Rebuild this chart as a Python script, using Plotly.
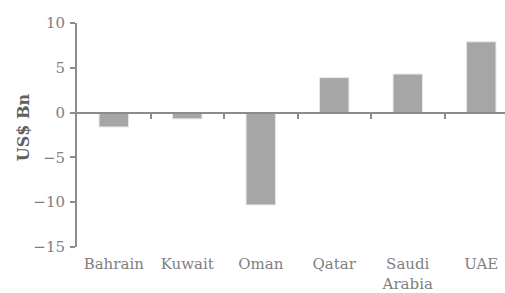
import plotly.graph_objects as go

countries = ["Bahrain", "Kuwait", "Oman", "Qatar", "Saudi<br>Arabia", "UAE"]
values = [-1.6, -0.7, -10.3, 3.9, 4.3, 7.9]
y_ticks = [10, 5, 0, -5, -10, -15]
y_tick_text = ["10", "5", "0", "\u22125", "\u221210", "\u221215"]
boundary_ticks = [0.5, 1.5, 2.5, 3.5, 4.5]

FONT = "DejaVu Serif"
AX = "#8c8c8c"
TXT = "#808080"

fig = go.Figure()
fig.add_trace(go.Bar(
    x=list(range(len(countries))), y=values,
    marker=dict(color="#a6a6a6", line=dict(color="#e6e6e6", width=1)),
    width=0.4, xaxis="x", yaxis="y",
))

xr = [-0.5, 5.323]
fig.update_layout(
    width=505, height=293,
    margin=dict(l=77, r=0, t=23, b=46, autoexpand=False),
    paper_bgcolor="white", plot_bgcolor="white",
    showlegend=False,
    font=dict(family=FONT, size=15, color=TXT),
    xaxis=dict(
        range=xr, tickmode="array", automargin=False,
        tickvals=list(range(len(countries))), ticktext=countries,
        showline=False, showgrid=False, zeroline=False, ticks="",
        ticklabelstandoff=6,
        tickfont=dict(family=FONT, size=15, color=TXT),
    ),
    xaxis2=dict(
        range=xr, overlaying="x", anchor="free", position=0.6, automargin=False,
        side="bottom", tickmode="array", tickvals=boundary_ticks,
        showticklabels=False, showline=True, linecolor=AX, linewidth=2,
        ticks="outside", ticklen=5, tickwidth=2, tickcolor=AX,
        showgrid=False, zeroline=False,
    ),
    yaxis=dict(
        range=[-15, 10], tickmode="array", tickvals=y_ticks, ticktext=y_tick_text,
        automargin=False, ticklabelstandoff=2,
        showline=True, linecolor=AX, linewidth=2,
        ticks="outside", ticklen=5, tickwidth=2, tickcolor=AX,
        showgrid=False, zeroline=False,
        tickfont=dict(family=FONT, size=15, color=TXT),
    ),
)
fig.add_trace(go.Scatter(x=[xr[0]], y=[None], xaxis="x2", yaxis="y",
                         mode="markers", hoverinfo="skip", showlegend=False))

fig.add_annotation(
    text="<b>US$ Bn</b>", textangle=-90, xref="paper", yref="y",
    x=-0.123, y=-1.6, xanchor="center", yanchor="middle", showarrow=False,
    font=dict(family=FONT, size=16, color="#606060"),
)

fig.write_html("out.html", config={"displayModeBar": False},
               post_script="document.body.style.margin='0px';")
